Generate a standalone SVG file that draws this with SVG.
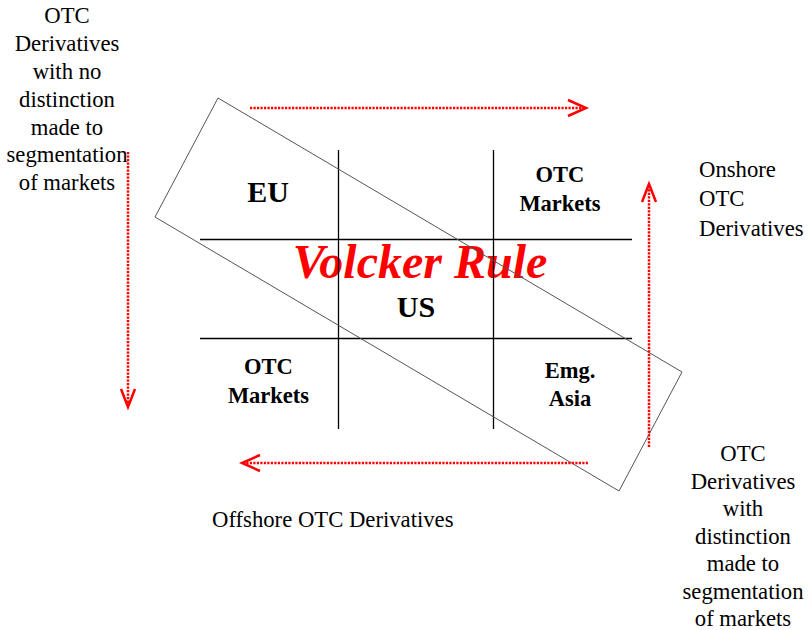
<svg xmlns="http://www.w3.org/2000/svg" width="809" height="630" viewBox="0 0 809 630">
<style>
.lbl{font-family:"Liberation Serif","Times New Roman",serif;font-size:22.7px;fill:#000;text-anchor:middle}
.lft{text-anchor:start}
.cell{font-family:"Liberation Serif","Times New Roman",serif;font-weight:bold;font-size:22.5px;fill:#000;text-anchor:middle}
.big{font-size:30px}
.title{font-family:"Liberation Serif","Times New Roman",serif;font-weight:bold;font-style:italic;font-size:48px;fill:#FF0000;text-anchor:middle}
.grid{stroke:#000;stroke-width:1.3;fill:none}
.frame{stroke:#555;stroke-width:1;fill:none}
.dot{stroke:#FF0000;stroke-width:2.5;stroke-dasharray:2.2 1.3;fill:none}
.head{stroke:#FF0000;stroke-width:2.5;fill:none;stroke-linejoin:miter}
</style>
<rect width="809" height="630" fill="#fff"/>
<g id="title"><text class="title" x="420" y="278">Volcker Rule</text></g>
<g id="grid">
<line class="grid" x1="338.5" y1="150" x2="338.5" y2="429"/>
<line class="grid" x1="493.5" y1="150" x2="493.5" y2="429"/>
<line class="grid" x1="200" y1="239.5" x2="632" y2="239.5"/>
<line class="grid" x1="200" y1="338.5" x2="632" y2="338.5"/>
</g>
<g id="frame"><polygon class="frame" points="218,98 682,372 619,491 155,217"/></g>
<g id="eu"><text class="cell big" x="268" y="202">EU</text></g>
<g id="otc-markets-top"><text class="cell" x="560" y="182">OTC</text><text class="cell" x="560" y="211">Markets</text></g>
<g id="us"><text class="cell big" x="416" y="317">US</text></g>
<g id="otc-markets-bottom"><text class="cell" x="268.5" y="374">OTC</text><text class="cell" x="268.5" y="403">Markets</text></g>
<g id="emg-asia"><text class="cell" x="570" y="378">Emg.</text><text class="cell" x="570" y="406">Asia</text></g>
<g id="label-left">
<text class="lbl" x="67" y="23">OTC</text>
<text class="lbl" x="67" y="51">Derivatives</text>
<text class="lbl" x="67" y="79">with no</text>
<text class="lbl" x="67" y="107">distinction</text>
<text class="lbl" x="67" y="135">made to</text>
<text class="lbl" x="67" y="162">segmentation</text>
<text class="lbl" x="67" y="190">of markets</text>
</g>
<g id="label-onshore">
<text class="lbl lft" x="699" y="177">Onshore</text>
<text class="lbl lft" x="699" y="206">OTC</text>
<text class="lbl lft" x="699" y="236">Derivatives</text>
</g>
<g id="label-offshore"><text class="lbl lft" x="212" y="527">Offshore OTC Derivatives</text></g>
<g id="label-right">
<text class="lbl" x="743" y="461">OTC</text>
<text class="lbl" x="743" y="489">Derivatives</text>
<text class="lbl" x="743" y="516">with</text>
<text class="lbl" x="743" y="544">distinction</text>
<text class="lbl" x="743" y="571">made to</text>
<text class="lbl" x="743" y="599">segmentation</text>
<text class="lbl" x="743" y="626">of markets</text>
</g>
<g id="connectors">
<line class="dot" x1="250" y1="108" x2="585" y2="108"/>
<polyline class="head" points="568,100 586,108 568,116"/>
<line class="dot" x1="128" y1="152" x2="128" y2="406"/>
<polyline class="head" points="121,389 128,407 135,389"/>
<line class="dot" x1="649" y1="447" x2="649" y2="185"/>
<polyline class="head" points="642,202 649,184 656,202"/>
<line class="dot" x1="588" y1="463" x2="243" y2="463"/>
<polyline class="head" points="260,455 242,463 260,471"/>
</g>
</svg>
